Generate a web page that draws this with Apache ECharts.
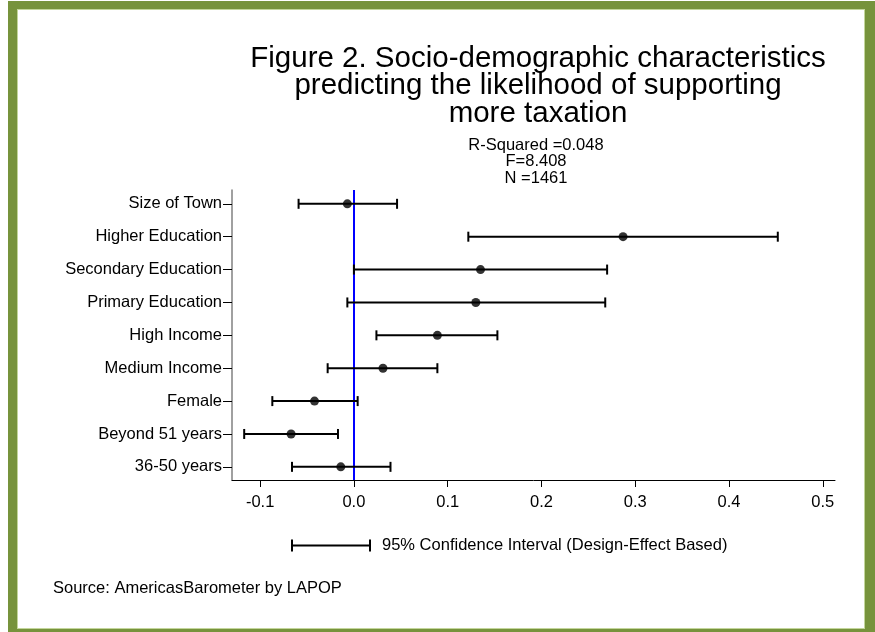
<!DOCTYPE html>
<html>
<head>
<meta charset="utf-8">
<script src="https://cdn.jsdelivr.net/npm/echarts@6/dist/echarts.min.js"></script>
<style>
  html, body { margin: 0; padding: 0; background: #fff; }
  #chart { width: 875px; height: 632px; }
  .frame {
    position: absolute; left: 8px; top: 1px; right: 0; bottom: 0;
    border-style: solid; border-color: #77933c;
    border-width: 8px 10px 3px 9px;
    box-shadow: inset 0 0 0 1px #c3d69b;
    pointer-events: none;
  }
</style>
</head>
<body>
<div id="chart"></div>
<div class="frame"></div>
<script>
// variables, bottom to top
var categories = ["36-50 years", "Beyond 51 years", "Female", "Medium Income", "High Income",
  "Primary Education", "Secondary Education", "Higher Education", "Size of Town"];
var estimates = [-0.014, -0.067, -0.042, 0.031, 0.089, 0.130, 0.135, 0.287, -0.007];
var lower = [-0.066, -0.117, -0.087, -0.028, 0.024, -0.007, 0.000, 0.122, -0.059];
var upper = [0.039, -0.017, 0.004, 0.089, 0.153, 0.268, 0.270, 0.452, 0.046];
var xTicks = [-0.1, 0.0, 0.1, 0.2, 0.3, 0.4, 0.5];
var yTicks = [1, 2, 3, 4, 5, 6, 7, 8, 9];

var ciName = "95% Confidence Interval (Design-Effect Based)";
var font = "Liberation Sans";

var ciData = [];
var pointData = [];
categories.forEach(function (c, i) {
  ciData.push([lower[i], upper[i], i + 1]);
  pointData.push([estimates[i], i + 1]);
});

var chart = echarts.init(document.getElementById("chart"));
var option = {
  animation: false,
  textStyle: { fontFamily: font },
  grid: { left: 232, right: 40, top: 190, bottom: 152 },
  legend: {
    data: [ciName],
    left: 291,
    top: 537,
    padding: 0,
    itemWidth: 80,
    itemHeight: 12,
    icon: "path://M0,0h2v12h-2z M0,5h80v2h-80z M78,0h2v12h-2z",
    textStyle: { fontSize: 16.5, color: "#000", fontFamily: font, padding: [0, 0, 0, 6] },
    selectedMode: false
  },
  graphic: [
    {
      type: "text", x: 538, y: 45,
      style: {
        text: "Figure 2. Socio-demographic characteristics\npredicting the likelihood of supporting\nmore taxation",
        font: "29.5px " + font, fill: "#000", align: "center", verticalAlign: "top", lineHeight: 27.5
      }
    },
    {
      type: "text", x: 536, y: 137,
      style: {
        text: "R-Squared =0.048\nF=8.408\nN =1461",
        font: "16.5px " + font, fill: "#000", align: "center", verticalAlign: "top", lineHeight: 16.5
      }
    },
    {
      type: "text", x: 53, y: 580,
      style: { text: "Source: AmericasBarometer by LAPOP", font: "16.5px " + font, fill: "#000" }
    }
  ],
  xAxis: {
    type: "value",
    min: -0.13,
    max: 0.513,
    splitLine: { show: false },
    axisLine: { onZero: false, lineStyle: { color: "#000", width: 1 } },
    axisTick: { length: 7, lineStyle: { color: "#000" }, customValues: xTicks },
    axisLabel: {
      customValues: xTicks, margin: 14, fontSize: 16.5, color: "#000",
      formatter: function (v) { return v.toFixed(1); }
    }
  },
  yAxis: {
    type: "value",
    min: 0.6,
    max: 9.42,
    splitLine: { show: false },
    axisLine: { show: true, onZero: false, lineStyle: { color: "#808080", width: 1.5 } },
    axisTick: { show: true, length: 9, lineStyle: { color: "#000" }, customValues: yTicks },
    axisLabel: {
      customValues: yTicks, margin: 10, fontSize: 16.5, color: "#000",
      formatter: function (v) { return categories[Math.round(v) - 1]; }
    }
  },
  series: [
    {
      name: ciName,
      type: "custom",
      itemStyle: { color: "#000" },
      data: ciData,
      renderItem: function (params, api) {
        var a = api.coord([api.value(0), api.value(2)]);
        var b = api.coord([api.value(1), api.value(2)]);
        var h = 5;
        var st = { stroke: "#000", lineWidth: 2 };
        return {
          type: "group",
          children: [
            { type: "line", shape: { x1: a[0], y1: a[1], x2: b[0], y2: b[1] }, style: st },
            { type: "line", shape: { x1: a[0], y1: a[1] - h, x2: a[0], y2: a[1] + h }, style: st },
            { type: "line", shape: { x1: b[0], y1: b[1] - h, x2: b[0], y2: b[1] + h }, style: st }
          ]
        };
      },
      z: 3
    },
    {
      name: "Estimate",
      type: "scatter",
      data: pointData,
      symbolSize: 9,
      itemStyle: { color: "#000" },
      z: 4,
      markLine: {
        silent: true,
        symbol: "none",
        label: { show: false },
        lineStyle: { color: "#0000ff", width: 2, type: "solid" },
        data: [{ xAxis: 0 }],
        z: 2
      }
    }
  ]
};
chart.setOption(option);
</script>
</body>
</html>
